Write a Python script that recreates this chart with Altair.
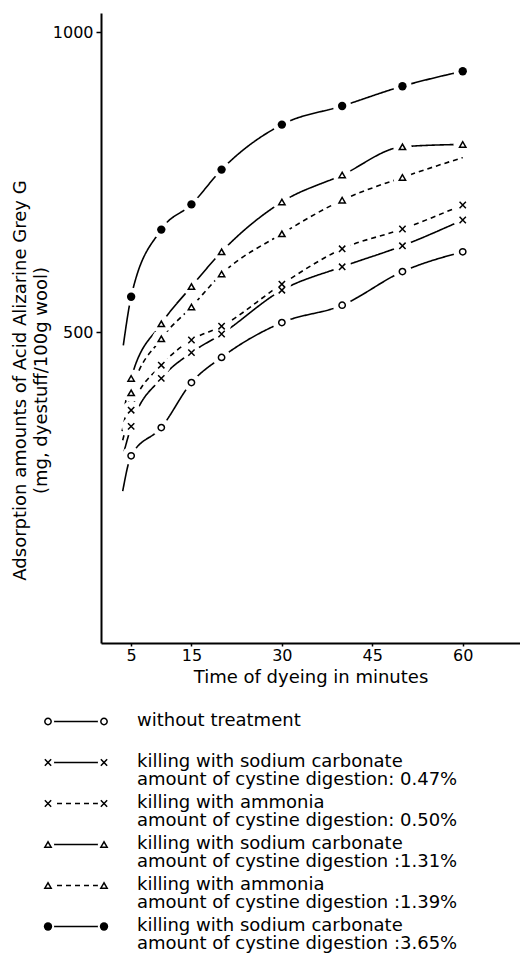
import altair as alt
import pandas as pd

FONT = "DejaVu Sans"

# ---- data ----------------------------------------------------------------
times = [5, 10, 15, 20, 30, 40, 50, 60]

untreated   = [294, 341, 416, 458, 516, 545, 601, 634]
soda_047    = [343, 423, 466, 497, 570, 609, 644, 687]
ammonia_050 = [370, 445, 487, 510, 580, 639, 672, 712]
soda_131    = [423, 514, 576, 634, 717, 762, 809, 813]
ammonia_139 = [399, 489, 542, 597, 664, 720, 758, 791]
soda_365    = [559, 671, 713, 771, 846, 877, 910, 935]

# where each drawn curve begins, to the left of the 5-minute point
curve_start_time = [3.6, 3.8, 3.6, 3.8, 3.5, 3.7]
curve_start_value = [235, 300, 320, 370, 335, 478]

# number of plotted markers per curve (dashed 1.39 % curve has none at 60 min)
marked_points = [8, 8, 8, 8, 7, 8]

series_ids = ["s1", "s2", "s3", "s4", "s5", "s6"]
legend_labels = [
    "without treatment",
    "killing with sodium carbonate\namount of cystine digestion: 0.47%",
    "killing with ammonia\namount of cystine digestion: 0.50%",
    "killing with sodium carbonate\namount of cystine digestion :1.31%",
    "killing with ammonia\namount of cystine digestion :1.39%",
    "killing with sodium carbonate\namount of cystine digestion :3.65%",
]
marker_kind = ["open", "x", "x", "tri", "tri", "dot"]

x_ticks = [5, 15, 30, 45, 60]
y_ticks = [500, 1000]

# ---- tables ---------------------------------------------------------------
all_values = [untreated, soda_047, ammonia_050, soda_131, ammonia_139, soda_365]
rows = []
for i, sid in enumerate(series_ids):
    rows.append(dict(series=sid, t=curve_start_time[i], v=curve_start_value[i],
                     marker=False, kind=marker_kind[i]))
    for j, (t, v) in enumerate(zip(times, all_values[i])):
        rows.append(dict(series=sid, t=t, v=v, marker=j < marked_points[i],
                         kind=marker_kind[i]))
df = pd.DataFrame(rows)

leg = pd.DataFrame(dict(series=series_ids, row=list(range(6)),
                        label=legend_labels, kind=marker_kind))

X_PATH = "M-1,-1L1,1M-1,1L1,-1"
dash_scale = alt.Scale(domain=series_ids,
                       range=[[1, 0], [1, 0], [5, 4], [1, 0], [5, 4], [1, 0]])
shape_scale = alt.Scale(domain=series_ids,
                        range=["circle", X_PATH, X_PATH, "triangle-up",
                               "triangle-up", "circle"])

# ---- main plot ------------------------------------------------------------
xenc = alt.X("t:Q", scale=alt.Scale(domain=[0, 69.5], nice=False, zero=False),
             axis=alt.Axis(values=x_ticks, title="Time of dyeing in minutes",
                           grid=False, tickSize=3, labelPadding=1,
                           titlePadding=5, labelFontSize=16, titleFontSize=18,
                           titleFontWeight="normal", labelFlush=False))
yenc = alt.Y("v:Q", scale=alt.Scale(domain=[-18, 1032], nice=False, zero=False),
             axis=alt.Axis(values=y_ticks, format="d",
                           title=["Adsorption amounts of Acid  Alizarine Grey G",
                                  "(mg, dyestuff/100g wool)"],
                           grid=False, tickSize=5, labelPadding=3,
                           labelFontSize=16, titleFontSize=18,
                           titleFontWeight="normal",
                           titleLineHeight=21, titleBaseline="middle",
                           titleX=-81, titleY=367, labelFlush=False))

base = alt.Chart(df)
lines = base.mark_line(interpolate="monotone", strokeWidth=1.6, color="black").encode(
    x=xenc, y=yenc,
    detail="series:N",
    strokeDash=alt.StrokeDash("series:N", scale=dash_scale, legend=None),
    order="t:Q",
)
marked = base.transform_filter("datum.marker")
halo = marked.mark_point(filled=True, color="white", opacity=1, size=340,
                         shape="circle").encode(x="t:Q", y="v:Q")
open_marks = marked.transform_filter("datum.kind != 'dot'").mark_point(
    filled=False, color="black", strokeWidth=1.5, size=40, opacity=1).encode(
    x="t:Q", y="v:Q",
    shape=alt.Shape("series:N", scale=shape_scale, legend=None))
dots = marked.transform_filter("datum.kind == 'dot'").mark_point(
    filled=True, color="black", size=70, shape="circle", opacity=1).encode(
    x="t:Q", y="v:Q")

main = alt.layer(lines, halo, open_marks, dots).properties(width=419, height=630)

# ---- legend drawn beneath ---------------------------------------------------
yl = alt.Y("row:O", axis=None, scale=alt.Scale(type="point", padding=0.5))
lb = alt.Chart(leg)
X_LEFT, X_RIGHT, X_TEXT = -53, 3, 36
leg_line = lb.mark_rule(strokeWidth=1.6, color="black").encode(
    x=alt.value(X_LEFT), x2=alt.value(X_RIGHT), y=yl,
    strokeDash=alt.StrokeDash("series:N", scale=dash_scale, legend=None))
leg_layers = [leg_line]
for xv in (X_LEFT, X_RIGHT):
    leg_layers.append(lb.mark_point(filled=True, color="white", opacity=1,
                                    size=150, shape="circle").encode(
        x=alt.value(xv), y=yl))
    leg_layers.append(lb.transform_filter("datum.kind != 'dot'").mark_point(
        filled=False, color="black", strokeWidth=1.5, size=40, opacity=1).encode(
        x=alt.value(xv), y=yl,
        shape=alt.Shape("series:N", scale=shape_scale, legend=None)))
    leg_layers.append(lb.transform_filter("datum.kind == 'dot'").mark_point(
        filled=True, color="black", size=70, shape="circle", opacity=1).encode(
        x=alt.value(xv), y=yl))
leg_text = lb.mark_text(align="left", baseline="top", dy=-10, lineBreak="\n",
                        lineHeight=18, fontSize=18, font=FONT,
                        color="black").encode(
    x=alt.value(X_TEXT), y=yl, text="label:N")
leg_layers.append(leg_text)
legend = alt.layer(*leg_layers).properties(width=419, height=246)

chart = alt.vconcat(main, legend, spacing=15).properties(
    padding={"left": 3, "top": 5, "right": 0, "bottom": 0},
    background="white",
).configure_view(stroke=None).configure_axis(
    domainColor="black", domainWidth=2, tickColor="black", tickWidth=1.5,
    labelColor="black", titleColor="black", labelFont=FONT, titleFont=FONT,
    titleFontWeight="normal",
)

chart.save("out.html", embed_options={"renderer": "svg", "actions": False})
